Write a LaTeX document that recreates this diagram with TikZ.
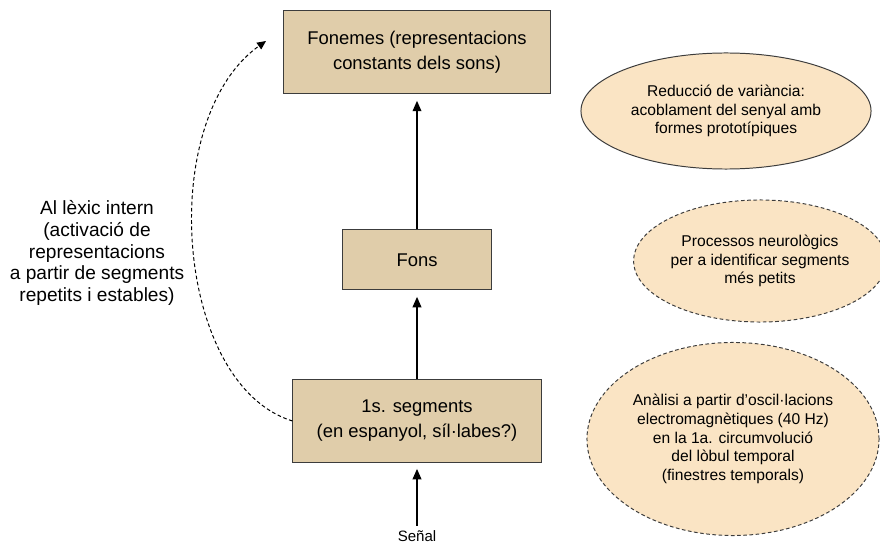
\documentclass[tikz,border=0pt]{standalone}
\usepackage{fontspec}
\setmainfont{Liberation Sans}
\usetikzlibrary{positioning, shapes.geometric, arrows.meta}
\definecolor{boxtan}{RGB}{224,205,170}
\definecolor{ovaltan}{RGB}{250,228,196}
\definecolor{linegray}{RGB}{60,60,60}

\begin{document}
\begin{tikzpicture}[x=0.025cm, y=-0.025cm,
    level/.style={draw=linegray, line width=0.7pt, fill=boxtan, align=center, inner sep=0pt,
        font=\fontsize{13.1}{17.7}\selectfont},
    oval/.style={ellipse, draw=linegray, line width=0.7pt, fill=ovaltan, align=center, inner sep=0pt,
        font=\fontsize{11.1}{13.4}\selectfont},
    dashy/.style={dash pattern=on 2.6pt off 1.8pt},
    up/.style={-{Triangle[length=2.6mm,width=2.2mm]}, line width=0.9pt, shorten >=1.6mm}]
    \useasboundingbox (0,0) rectangle (880,544);

    \node[level, minimum width=6.2cm, minimum height=2.05cm] (seg) at (417,421)
        {1s. segments\\(en espanyol, síl·labes?)};
    \node[level, minimum width=3.725cm, minimum height=1.5cm, above=2.225cm of seg] (fons) {Fons};
    \node[level, minimum width=6.675cm, minimum height=2.075cm, above=3.375cm of fons] (fonemes)
        {Fonemes (representacions\\constants dels sons)};
    \node[font=\fontsize{10.7}{12}\selectfont] (senyal) at (417,536) {Señal};

    \node[oval, minimum width=7.25cm, minimum height=2.9cm] (reduccio) at (726,111)
        {Reducció de variància:\\acoblament del senyal amb\\formes prototípiques};
    \node[oval, dashy, minimum width=5.875cm, minimum height=3.05cm] (processos) at (760,261)
        {Processos neurològics\\per a identificar segments\\més petits};
    \node[oval, dashy, minimum width=7.3cm, minimum height=4.825cm] (analisi) at (733,439)
        {Anàlisi a partir d'oscil·lacions\\electromagnètiques (40 Hz)\\en la 1a. circumvolució\\del lòbul temporal\\(finestres temporals)};

    \node[align=center, font=\fontsize{13.6}{15.4}\selectfont] (lexic) at (97,253)
        {Al lèxic intern\\(activació de\\representacions\\a partir de segments\\repetits i estables)};
    \coordinate (lexictip) at (266,41);

    \draw[up] (senyal) -- (seg);
    \draw[up] (seg) -- (fons);
    \draw[up] (fons) -- (fonemes);
    \draw[-{Triangle[length=2.2mm,width=2mm]}, line width=0.7pt, dashy]
        (seg.west) .. controls (175,385) and (155,120) .. (lexictip);
\end{tikzpicture}
\end{document}
